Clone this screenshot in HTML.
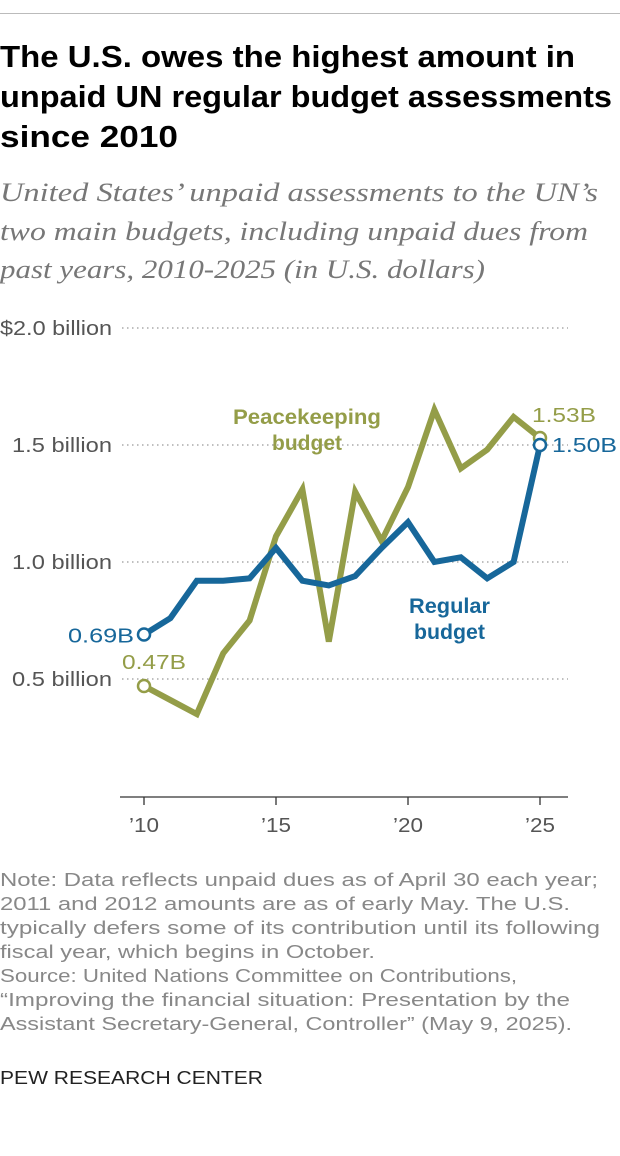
<!DOCTYPE html>
<html><head><meta charset="utf-8"><style>
body{margin:0;background:#fff;font-family:"Liberation Sans",sans-serif;}
#wrap{position:relative;width:620px;height:1156px;overflow:hidden;}
svg{position:absolute;left:0;top:0}
</style></head><body>
<div id="wrap">
<svg width="620" height="1156"></svg>
</div>
<script>
const years=[2010,2011,2012,2013,2014,2015,2016,2017,2018,2019,2020,2021,2022,2023,2024,2025];
const regular=[0.69,0.76,0.92,0.92,0.93,1.06,0.92,0.90,0.94,1.06,1.17,1.00,1.02,0.93,1.00,1.50];
const peacekeeping=[0.47,0.41,0.35,0.61,0.75,1.11,1.31,0.66,1.30,1.09,1.32,1.65,1.40,1.48,1.62,1.53];
const yTicks=[2.0,1.5,1.0,0.5];
const yTickLabels=["$2.0 billion","1.5 billion","1.0 billion","0.5 billion"];
const xTicks=[2010,2015,2020,2025];
const xTickLabels=["’10","’15","’20","’25"];
const NS="http://www.w3.org/2000/svg";
const svg=document.querySelector('svg');
const x=v=>144+(v-2010)*(396/15);
const y=v=>796-v*234;
function mk(tag,attrs,parent){const e=document.createElementNS(NS,tag);for(const k in attrs)e.setAttribute(k,attrs[k]);(parent||svg).appendChild(e);return e;}
function txt(s,xx,yy,o){
 const a={x:xx,y:yy,'font-size':o.size,fill:o.fill,'font-family':o.font||'Liberation Sans','text-anchor':o.anchor||'start'};
 if(o.bold)a['font-weight']='bold';
 if(o.italic)a['font-style']='italic';
 if(o.len){a.textLength=o.len;a.lengthAdjust='spacingAndGlyphs';}
 const t=mk('text',a);t.textContent=s;return t;
}
const rule=mk('rect',{x:0,y:13,width:620,height:1,fill:'#bbb'});


[["The U.S. owes the highest amount in",67,575],["unpaid UN regular budget assessments",107,612],["since 2010",147,178]].forEach(l=>{
 const t=txt(l[0],0,l[1],{size:31,fill:'#000',bold:true,len:l[2]});
 
 
});
[["United States’ unpaid assessments to the UN’s",201,598],["two main budgets, including unpaid dues from",240,588],["past years, 2010-2025 (in U.S. dollars)",278,485]].forEach(l=>{
 const t=txt(l[0],0,l[1],{size:26,fill:'#777',italic:true,font:'Liberation Serif',len:l[2]});
 
 
});
[["Note: Data reflects unpaid dues as of April 30 each year;",598],["2011 and 2012 amounts are as of early May. The U.S.",570],["typically defers some of its contribution until its following",600],["fiscal year, which begins in October.",375],["Source: United Nations Committee on Contributions,",517],["“Improving the financial situation: Presentation by the",570],["Assistant Secretary-General, Controller” (May 9, 2025).",572]].forEach((l,i)=>{
 const t=txt(l[0],0,886+i*24,{size:18,fill:'#888',len:l[1]});
 
 
});
const cr=txt("PEW RESEARCH CENTER",0,1084,{size:18,fill:'#222',len:263});



yTicks.forEach((t,i)=>{
 const g=mk('line',{x1:122,x2:568,y1:y(t),y2:y(t),stroke:'#999','stroke-dasharray':'1.5 3.5','stroke-width':1.3});
 
 
 const tx=txt(yTickLabels[i],112,y(t)+7,{size:20,fill:'#555',anchor:'end',len:i==0?112:100});
 
 
});
const ax=mk('line',{x1:120,x2:568,y1:797,y2:797,stroke:'#333','stroke-width':1.3});


xTicks.forEach((t,i)=>{
 const tk=mk('line',{x1:x(t),x2:x(t),y1:797,y2:805,stroke:'#333','stroke-width':1.3});
 
 
 const tx=txt(xTickLabels[i],x(t),832,{size:20,fill:'#555',anchor:'middle',len:30});
 
 
});
function series(vals,color,name){
 const p=mk('polyline',{points:vals.map((v,i)=>x(years[i])+','+y(v)).join(' '),fill:'none',stroke:color,'stroke-width':6,'stroke-linejoin':'miter'});
 
 
 [0,vals.length-1].forEach(i=>{
  const c=mk('circle',{cx:x(years[i]),cy:y(vals[i]),r:6,fill:'#fff',stroke:color,'stroke-width':2.5});
  
  
 });
}
const G='#949d48',B='#17679a';
series(peacekeeping,G,'peacekeeping');
series(regular,B,'regular');
function lab(s,xx,yy,col,bold,name,len,size){
 const t=txt(s,xx,yy,{size:size||20,fill:col,bold:bold,len:len});
 
 
}
lab(regular[0].toFixed(2)+'B',68,y(regular[0])+8,B,false,'regular-start-label',66);
lab(peacekeeping[0].toFixed(2)+'B',122,y(peacekeeping[0])-17,G,false,'peacekeeping-start-label',64);
lab(peacekeeping[15].toFixed(2)+'B',532,y(peacekeeping[15])-16,G,false,'peacekeeping-end-label',64);
lab(regular[15].toFixed(2)+'B',552,y(regular[15])+7,B,false,'regular-end-label',65);
lab('Peacekeeping',233,424,G,true,'peacekeeping-series-label',148,21);
lab('budget',272,450,G,true,'peacekeeping-series-label',70,21);
lab('Regular',409,613,B,true,'regular-series-label',81,21);
lab('budget',414,639,B,true,'regular-series-label',71,21);
</script>
</body></html>
